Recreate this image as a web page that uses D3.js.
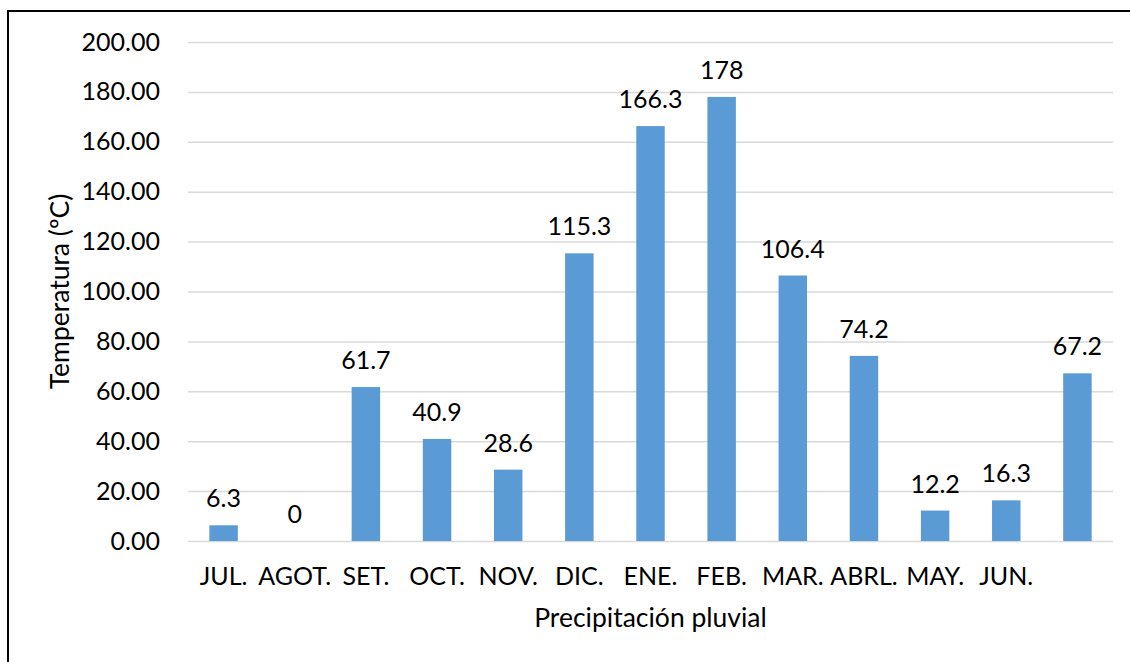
<!DOCTYPE html>
<html>
<head>
<meta charset="utf-8">
<script src="https://cdn.jsdelivr.net/npm/d3@7"></script>
<style>
  html, body { margin: 0; padding: 0; background: #fff; }
  svg { display: block; }
  text { font-family: "Lato", "Open Sans", sans-serif; fill: #000; }
</style>
</head>
<body>
<svg id="chart" width="1130" height="662"></svg>
<script>
// Monthly rainfall, July through June plus one unlabelled bar
const categories = ["JUL.", "AGOT.", "SET.", "OCT.", "NOV.", "DIC.", "ENE.", "FEB.", "MAR.", "ABRL.", "MAY.", "JUN.", ""];
const values = [6.3, 0, 61.7, 40.9, 28.6, 115.3, 166.3, 178, 106.4, 74.2, 12.2, 16.3, 67.2];
const yTicks = [0, 20, 40, 60, 80, 100, 120, 140, 160, 180, 200];
const yTitle = "Temperatura (ºC)";
const xTitle = "Precipitación pluvial";

const svg = d3.select("#chart");
const W = 1130, H = 662;
const plot = { left: 188, right: 1113, top: 42, bottom: 541 };
const fs = 25;

// outer frame
svg.append("rect")
  .attr("x", 8).attr("y", 11)
  .attr("width", W).attr("height", H)
  .attr("fill", "none")
  .attr("stroke", "#000")
  .attr("stroke-width", 2);

const x = d3.scaleBand()
  .domain(d3.range(categories.length))
  .range([plot.left, plot.right])
  .paddingInner(0.6)
  .paddingOuter(0.3);

const y = d3.scaleLinear()
  .domain([0, 200])
  .range([plot.bottom, plot.top]);

// horizontal gridlines with y tick labels
const yAxis = d3.axisLeft(y)
  .tickValues(yTicks)
  .tickFormat(d3.format(".2f"))
  .tickSize(-(plot.right - plot.left))
  .tickPadding(28);

const gy = svg.append("g")
  .attr("transform", `translate(${plot.left},0)`)
  .call(yAxis);
gy.select(".domain").remove();
gy.selectAll(".tick line")
  .attr("stroke", "#D9D9D9")
  .attr("stroke-width", 1.5);
gy.selectAll(".tick text")
  .attr("font-size", fs)
  .style("font-family", "Lato, sans-serif");

// bars
svg.append("g")
  .selectAll("rect")
  .data(values)
  .join("rect")
  .attr("x", (d, i) => x(i))
  .attr("width", x.bandwidth())
  .attr("y", d => y(d))
  .attr("height", d => y(0) - y(d))
  .attr("fill", "#5B9BD5");

// value labels above bars
svg.append("g")
  .selectAll("text")
  .data(values)
  .join("text")
  .attr("x", (d, i) => x(i) + x.bandwidth() / 2)
  .attr("y", d => y(d) - 18)
  .attr("text-anchor", "middle")
  .attr("font-size", fs)
  .text(d => String(d));

// category axis
const xAxis = d3.axisBottom(x)
  .tickFormat(i => categories[i])
  .tickSize(0)
  .tickPadding(26);
const gx = svg.append("g")
  .attr("transform", `translate(0,${plot.bottom})`)
  .call(xAxis);
gx.select(".domain").remove();
gx.selectAll(".tick text")
  .attr("font-size", fs)
  .style("font-family", "Lato, sans-serif");

// axis titles
svg.append("text")
  .attr("transform", `translate(69,${(plot.top + plot.bottom) / 2}) rotate(-90)`)
  .attr("text-anchor", "middle")
  .attr("font-size", 26.5)
  .text(yTitle);

svg.append("text")
  .attr("x", (plot.left + plot.right) / 2)
  .attr("y", 627)
  .attr("text-anchor", "middle")
  .attr("font-size", 26.5)
  .text(xTitle);
</script>
</body>
</html>
